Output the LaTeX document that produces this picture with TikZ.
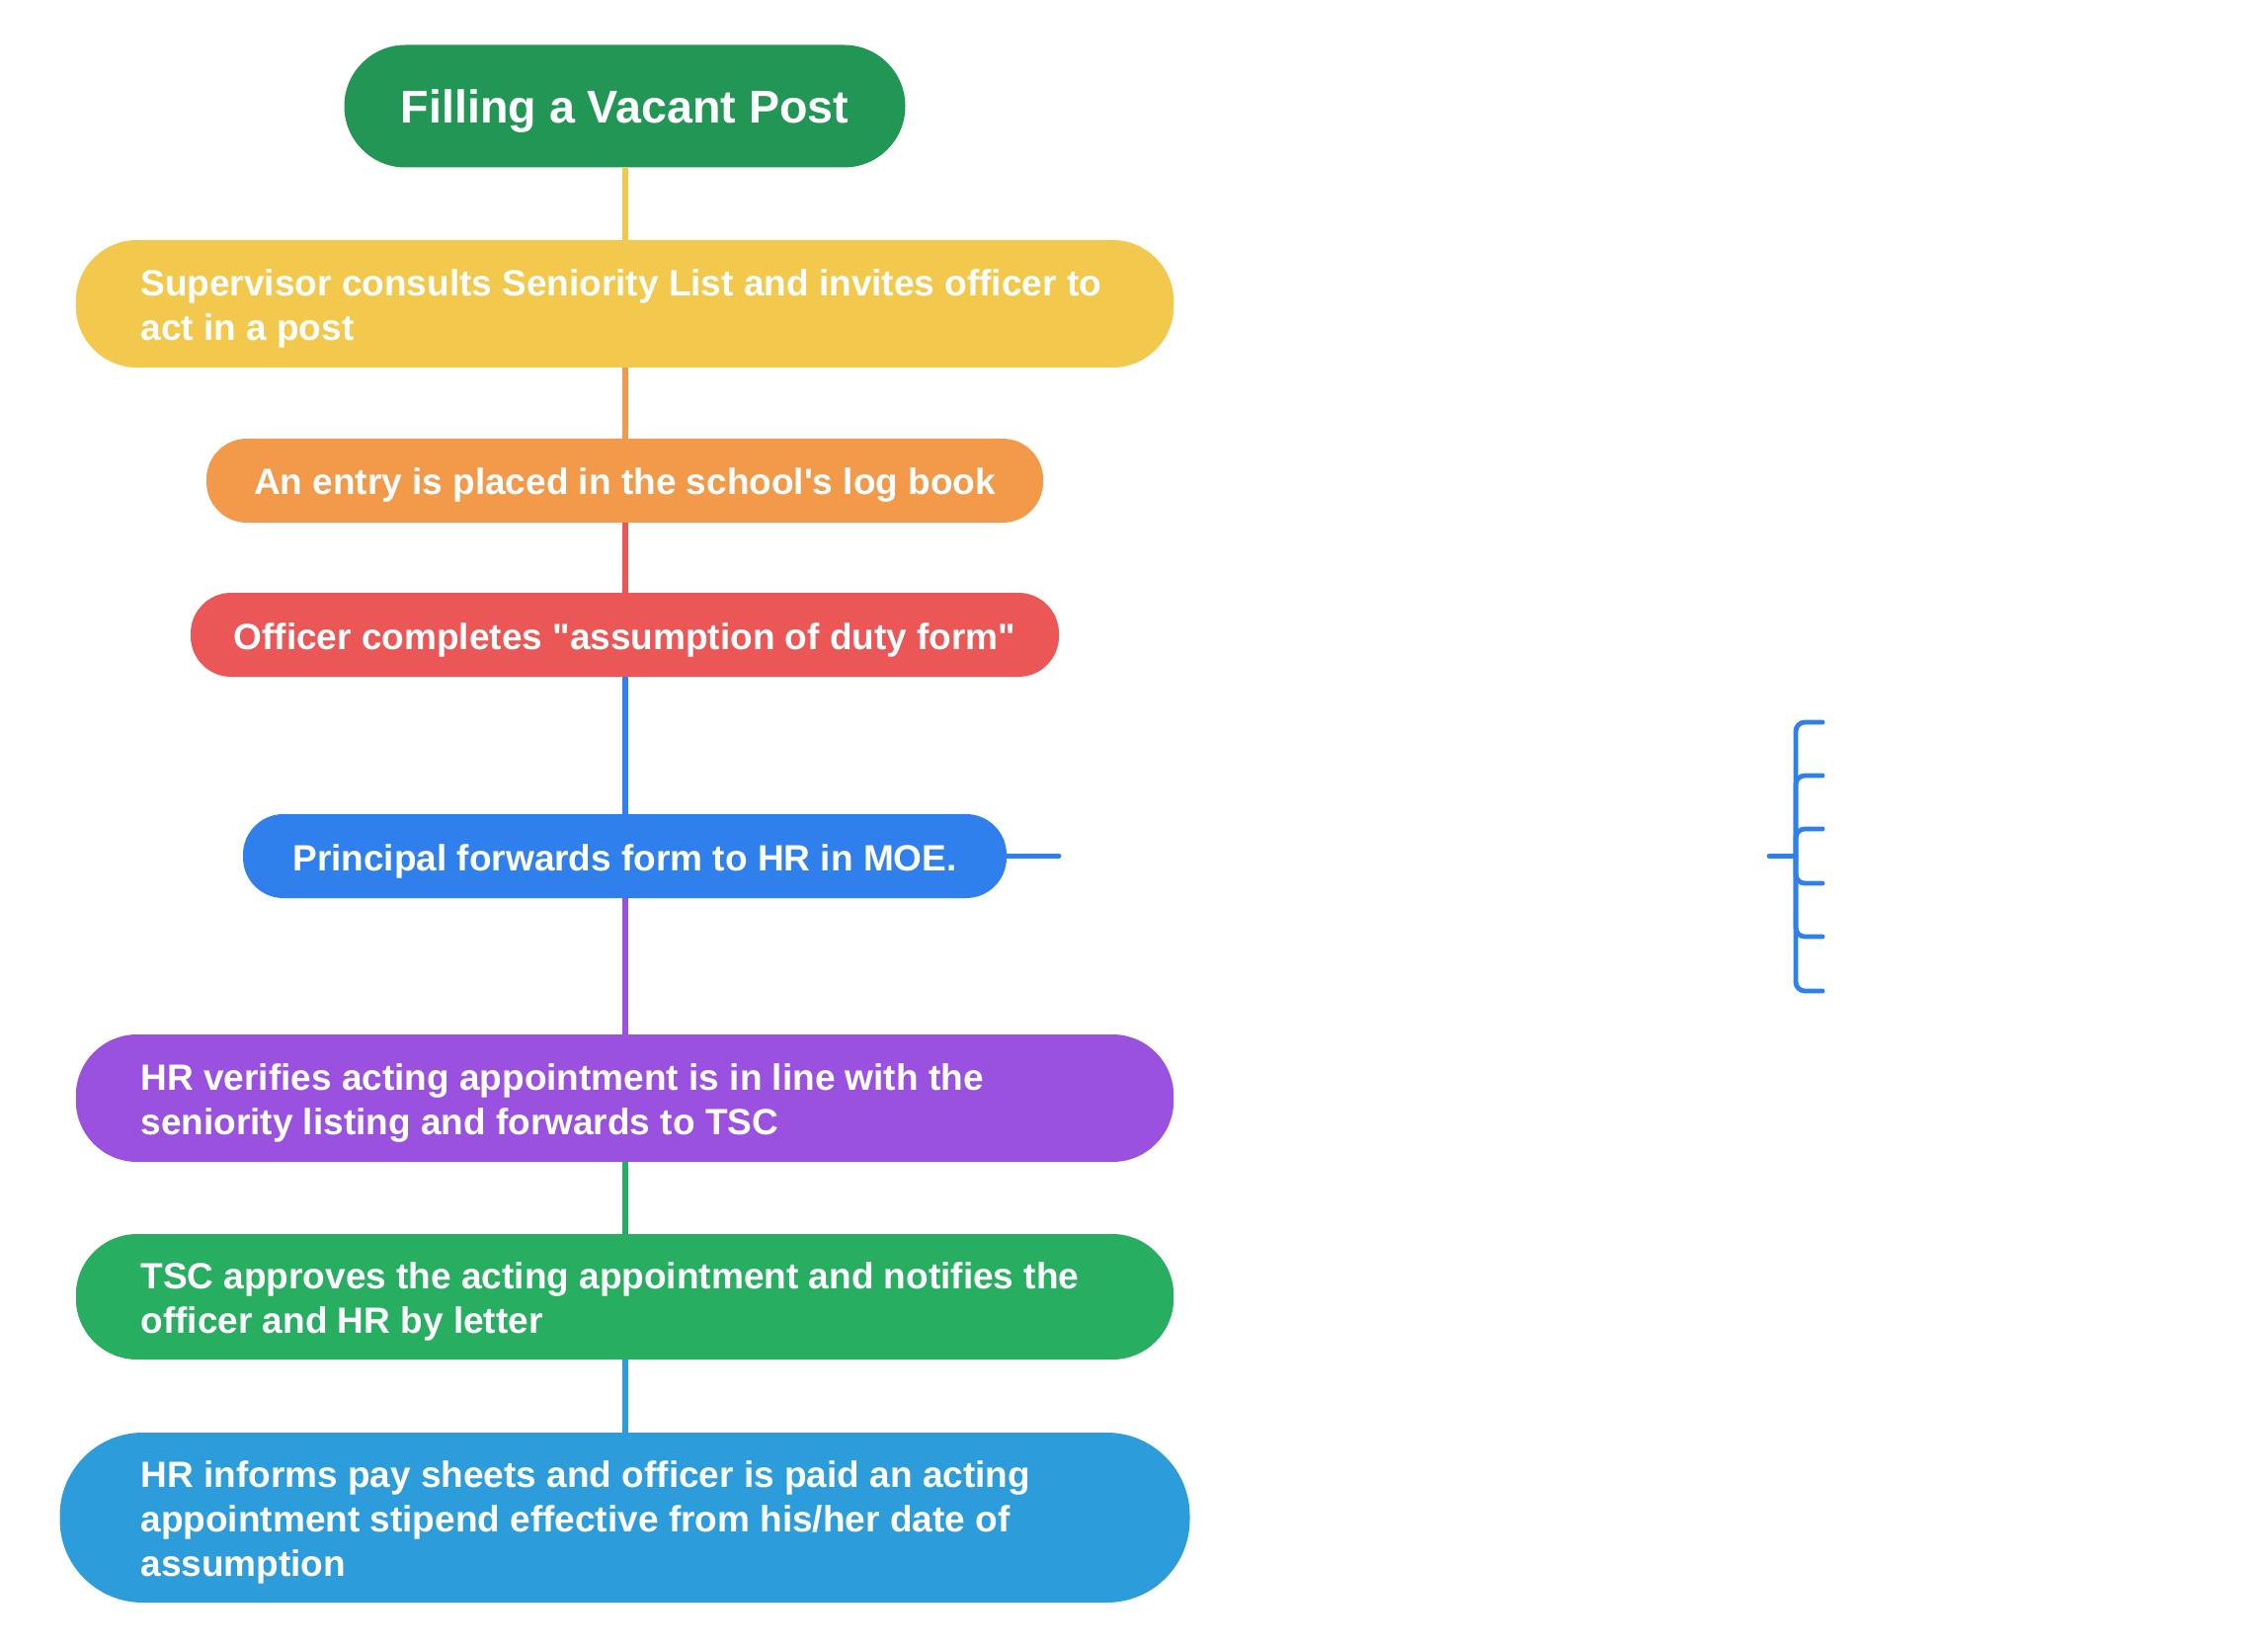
\documentclass[tikz,border=0pt]{standalone}
\usepackage{fontspec}
\setmainfont{Liberation Sans}[Ligatures=TeXOff]
\definecolor{ctitle}{RGB}{34,150,84}
\definecolor{cyellow}{RGB}{242,201,76}
\definecolor{corange}{RGB}{242,153,74}
\definecolor{cred}{RGB}{235,87,87}
\definecolor{cblue}{RGB}{47,128,237}
\definecolor{cpurple}{RGB}{155,81,224}
\definecolor{cgreen}{RGB}{39,174,96}
\definecolor{csky}{RGB}{45,156,219}
\newcommand{\bodyfont}{\fontsize{18.5}{22.4}\selectfont\bfseries}
% text sits slightly below the geometric centre of each pill
\newcommand{\lowered}[1]{\raisebox{-2.5pt}[\height][\depth]{#1}}
\newcommand{\lines}[1]{\lowered{\parbox{490pt}{\raggedright #1}}}
\begin{document}
\begin{tikzpicture}[x=0.5pt,y=-0.5pt,
  pill/.style={rectangle, fill=#1, text=white, inner sep=0pt, font=\bodyfont, align=center},
  link/.style={draw=#1, line width=3pt},
  brace/.style={draw=cblue, line width=2.4pt, line cap=round, rounded corners=4.5pt}]
\useasboundingbox (0,0) rectangle (2296,1668);

% process steps
\node[pill=ctitle, minimum width=284pt, minimum height=62pt, rounded corners=31pt,
      font=\fontsize{23.3}{28}\selectfont\bfseries] (title) at (632.5,107.5) {\lowered{Filling a Vacant Post}};
\node[pill=cyellow, minimum width=555.7pt, minimum height=64.5pt, rounded corners=31pt] (n1) at (632.5,307.5)
  {\lines{\mbox{Supervisor consults Seniority List and invites officer to}\\act in a post}};
\node[pill=corange, minimum width=423.5pt, minimum height=42.5pt, rounded corners=20.5pt] (n2) at (632.5,486.5)
  {\lowered{An entry is placed in the school's log book}};
\node[pill=cred, minimum width=439.5pt, minimum height=42.5pt, rounded corners=20.5pt] (n3) at (632.5,642.5)
  {\lowered{Officer completes "assumption of duty form"}};
\node[pill=cblue, minimum width=386.5pt, minimum height=42.5pt, rounded corners=20.5pt] (n4) at (632.5,866.5)
  {\lowered{Principal forwards form to HR in MOE.}};
\node[pill=cpurple, minimum width=555.7pt, minimum height=64.5pt, rounded corners=31pt] (n5) at (632.5,1111.5)
  {\lines{\mbox{HR verifies acting appointment is in line with the}\\seniority listing and forwards to TSC}};
\node[pill=cgreen, minimum width=555.7pt, minimum height=63.5pt, rounded corners=31pt] (n6) at (632.5,1312.5)
  {\lines{\mbox{TSC approves the acting appointment and notifies the}\\officer and HR by letter}};
\node[pill=csky, minimum width=572pt, minimum height=86pt, rounded corners=42pt] (n7) at (632.5,1536)
  {\lines{\mbox{HR informs pay sheets and officer is paid an acting}\\\mbox{appointment stipend effective from his/her date of}\\assumption}};

% vertical connectors
\draw[link=cyellow] (title.south) -- (n1.north);
\draw[link=corange] (n1.south) -- (n2.north);
\draw[link=cred] (n2.south) -- (n3.north);
\draw[link=cblue] (n3.south) -- (n4.north);
\draw[link=cpurple] (n4.south) -- (n5.north);
\draw[link=cgreen] (n5.south) -- (n6.north);
\draw[link=csky] (n6.south) -- (n7.north);

% side branch with bracket
\coordinate (stub) at (1072,866.5);
\draw[brace] (n4.east) -- (stub);
\coordinate (hub) at (1791,866.5);
\coordinate (spine) at (1818,866.5);
\draw[brace] (hub) -- (spine);
\foreach \i/\yy in {1/731,2/785,3/839,4/894,5/948,6/1003}{
  \coordinate (b\i) at (1845,\yy);
  \draw[brace] (spine) |- (b\i);
}
\end{tikzpicture}
\end{document}
